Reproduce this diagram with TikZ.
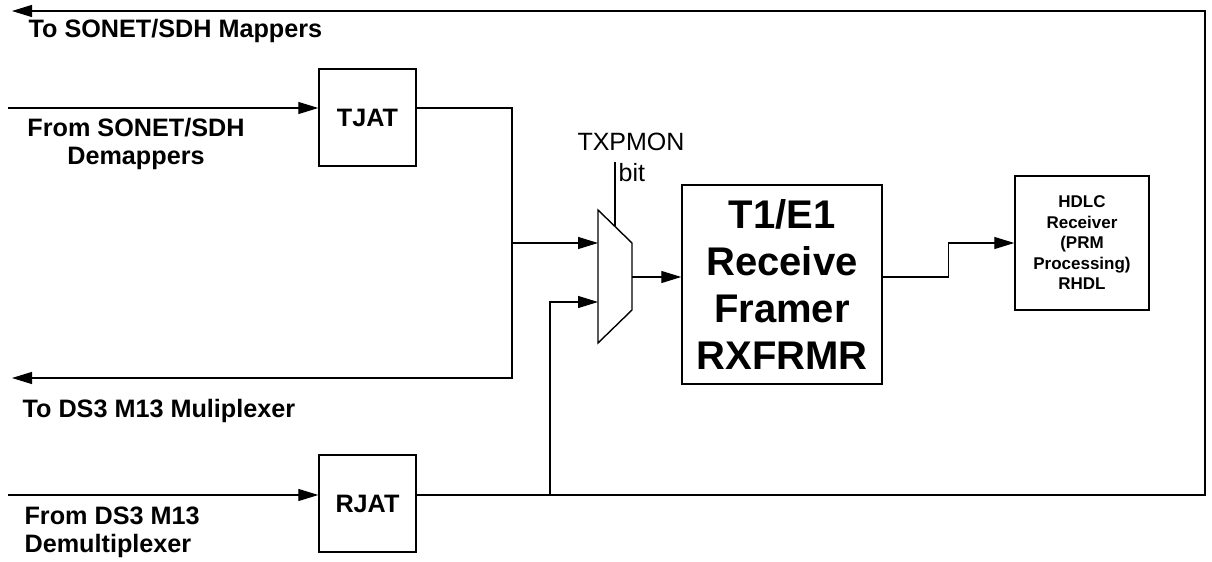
\documentclass[tikz,border=0pt]{standalone}
\usepackage{fontspec}
\setmainfont{Liberation Sans}
\usetikzlibrary{arrows.meta}

\begin{document}
\begin{tikzpicture}[x=0.5pt, y=-0.5pt, >={Triangle[length=10pt,width=6pt]}, line width=0.6pt,
    block/.style={draw, line width=0.7pt, inner sep=0pt, align=center},
    lbl/.style={inner sep=0pt, font=\fontsize{12.6}{14}\selectfont\bfseries}]
        \useasboundingbox (0,0) rectangle (1212,562);
        % blocks
        \node[block, minimum width=48.5pt, minimum height=48.5pt,
            font=\fontsize{12.6}{15}\selectfont\bfseries] (tjat) at (367.5,117.5) {TJAT};
        \node[block, minimum width=48.5pt, minimum height=48.5pt,
            font=\fontsize{12.6}{15}\selectfont\bfseries] (rjat) at (367.5,503.5) {RJAT};
        \node[block, minimum width=100pt, minimum height=99.5pt,
            font=\fontsize{20}{23.5}\selectfont\bfseries] (frmr) at (782,284.5)
            {T1/E1\\Receive\\Framer\\RXFRMR};
        \node[block, minimum width=67pt, minimum height=67pt,
            font=\fontsize{8.5}{10.25}\selectfont\bfseries] (hdlc) at (1082,243)
            {HDLC\\Receiver\\(PRM\\Processing)\\RHDL};
        % mux
        \coordinate (mtl) at (598,210);
        \coordinate (mtr) at (632,243);
        \coordinate (mbr) at (632,310);
        \coordinate (mbl) at (598,343);
        \draw[line width=0.7pt] (mtl) -- (mtr) -- (mbr) -- (mbl) -- cycle;
        \coordinate (in1) at (598,243);
        \coordinate (in2) at (598,302);
        \coordinate (mout) at (632,277);
        \coordinate (sel) at (615,226);
        \coordinate (seltop) at (615,162);
        \node[font=\fontsize{12.5}{14}\selectfont, inner sep=0pt] (txpmon) at (631,142) {TXPMON};
        \node[font=\fontsize{12.5}{14}\selectfont, inner sep=0pt, anchor=west] (bit) at (618,173) {bit};
        \draw (seltop) -- (sel);
        % labels
        \node[lbl, anchor=west] (tosonet) at (28,31) {To SONET/SDH Mappers};
        \node[lbl, align=center] (fromsonet) at (136,144) {From SONET/SDH\\Demappers};
        \node[lbl, anchor=west] (tods3) at (22,411) {To DS3 M13 Muliplexer};
        \node[lbl, align=left, anchor=west] (fromds3) at (24,532) {From DS3 M13\\Demultiplexer};
        % ends
        \coordinate (srcsonet) at (8,108);
        \coordinate (srcds3) at (8,495);
        \coordinate (snk1) at (12,11);
        \coordinate (snk2) at (12,378);
        \coordinate (ne) at (1205,11);
        \coordinate (se) at (1205,495);
        \coordinate (tjtop) at (512,108);
        \coordinate (tjbot) at (512,378);
        \coordinate (rjtap) at (550,495);
        % connectors
        \draw[->] (srcsonet) -- (tjat.west |- srcsonet);
        \draw[->] (tjat.east |- tjtop) -- (tjtop) -- (tjbot) -- (snk2);
        \draw[->] (tjtop |- in1) -- (in1);
        \draw[->] (srcds3) -- (rjat.west |- srcds3);
        \draw[->] (rjat.east |- srcds3) -- (se) -- (ne) -- (snk1);
        \draw[->] (rjtap) |- (in2);
        \draw[->] (mout) -- (mout -| frmr.west);
        \draw[->] (frmr.east |- mout) -- ++(66,0) |- (hdlc.west);
    \end{tikzpicture}
\end{document}
